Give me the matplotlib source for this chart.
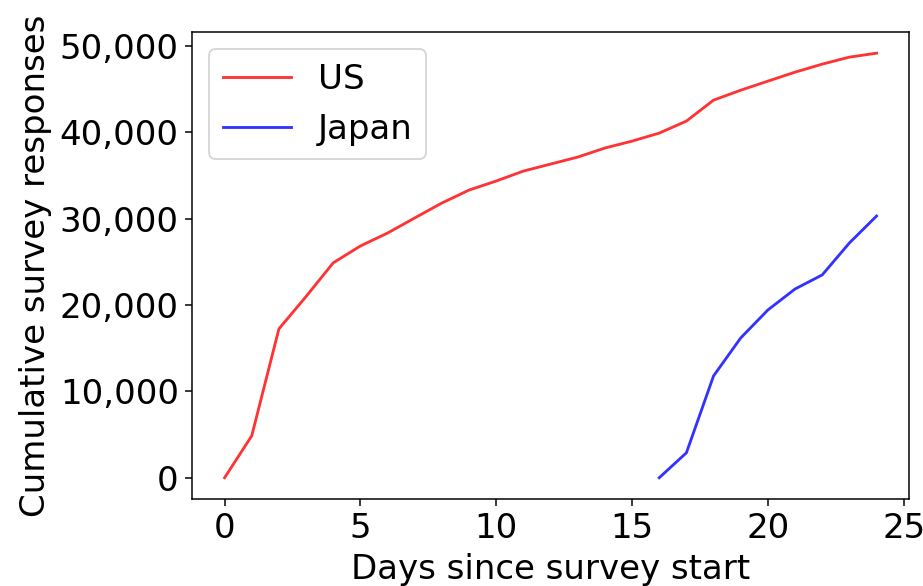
import matplotlib
matplotlib.use('Agg')
import matplotlib.pyplot as plt
from matplotlib.ticker import FuncFormatter

# cumulative responses per day
us_days = list(range(0, 25))
us_counts = [0, 4860, 17250, 21000, 24900, 26850, 28350, 30100, 31830, 33330,
             34380, 35530, 36340, 37150, 38200, 39000, 39930, 41320, 43750,
             44900, 45950, 46990, 47920, 48730, 49190]
jp_days = list(range(16, 25))
jp_counts = [0, 2890, 11800, 16200, 19440, 21870, 23500, 27200, 30320]

plt.rcParams['font.size'] = 18

fig = plt.figure(figsize=(923 / 136, 586 / 136), dpi=136)
ax = fig.add_axes([0.208, 0.1485, 0.777, 0.797])
ax.plot(us_days, us_counts, color='red', alpha=0.8, lw=1.5, label='US')
ax.plot(jp_days, jp_counts, color='blue', alpha=0.8, lw=1.5, label='Japan')
ax.yaxis.set_major_formatter(FuncFormatter(lambda v, p: '{:,.0f}'.format(v)))
ax.set_xlabel('Days since survey start')
ax.set_ylabel('Cumulative survey responses')
ax.legend(loc='upper left')
fig.savefig('out.png', dpi=136)
